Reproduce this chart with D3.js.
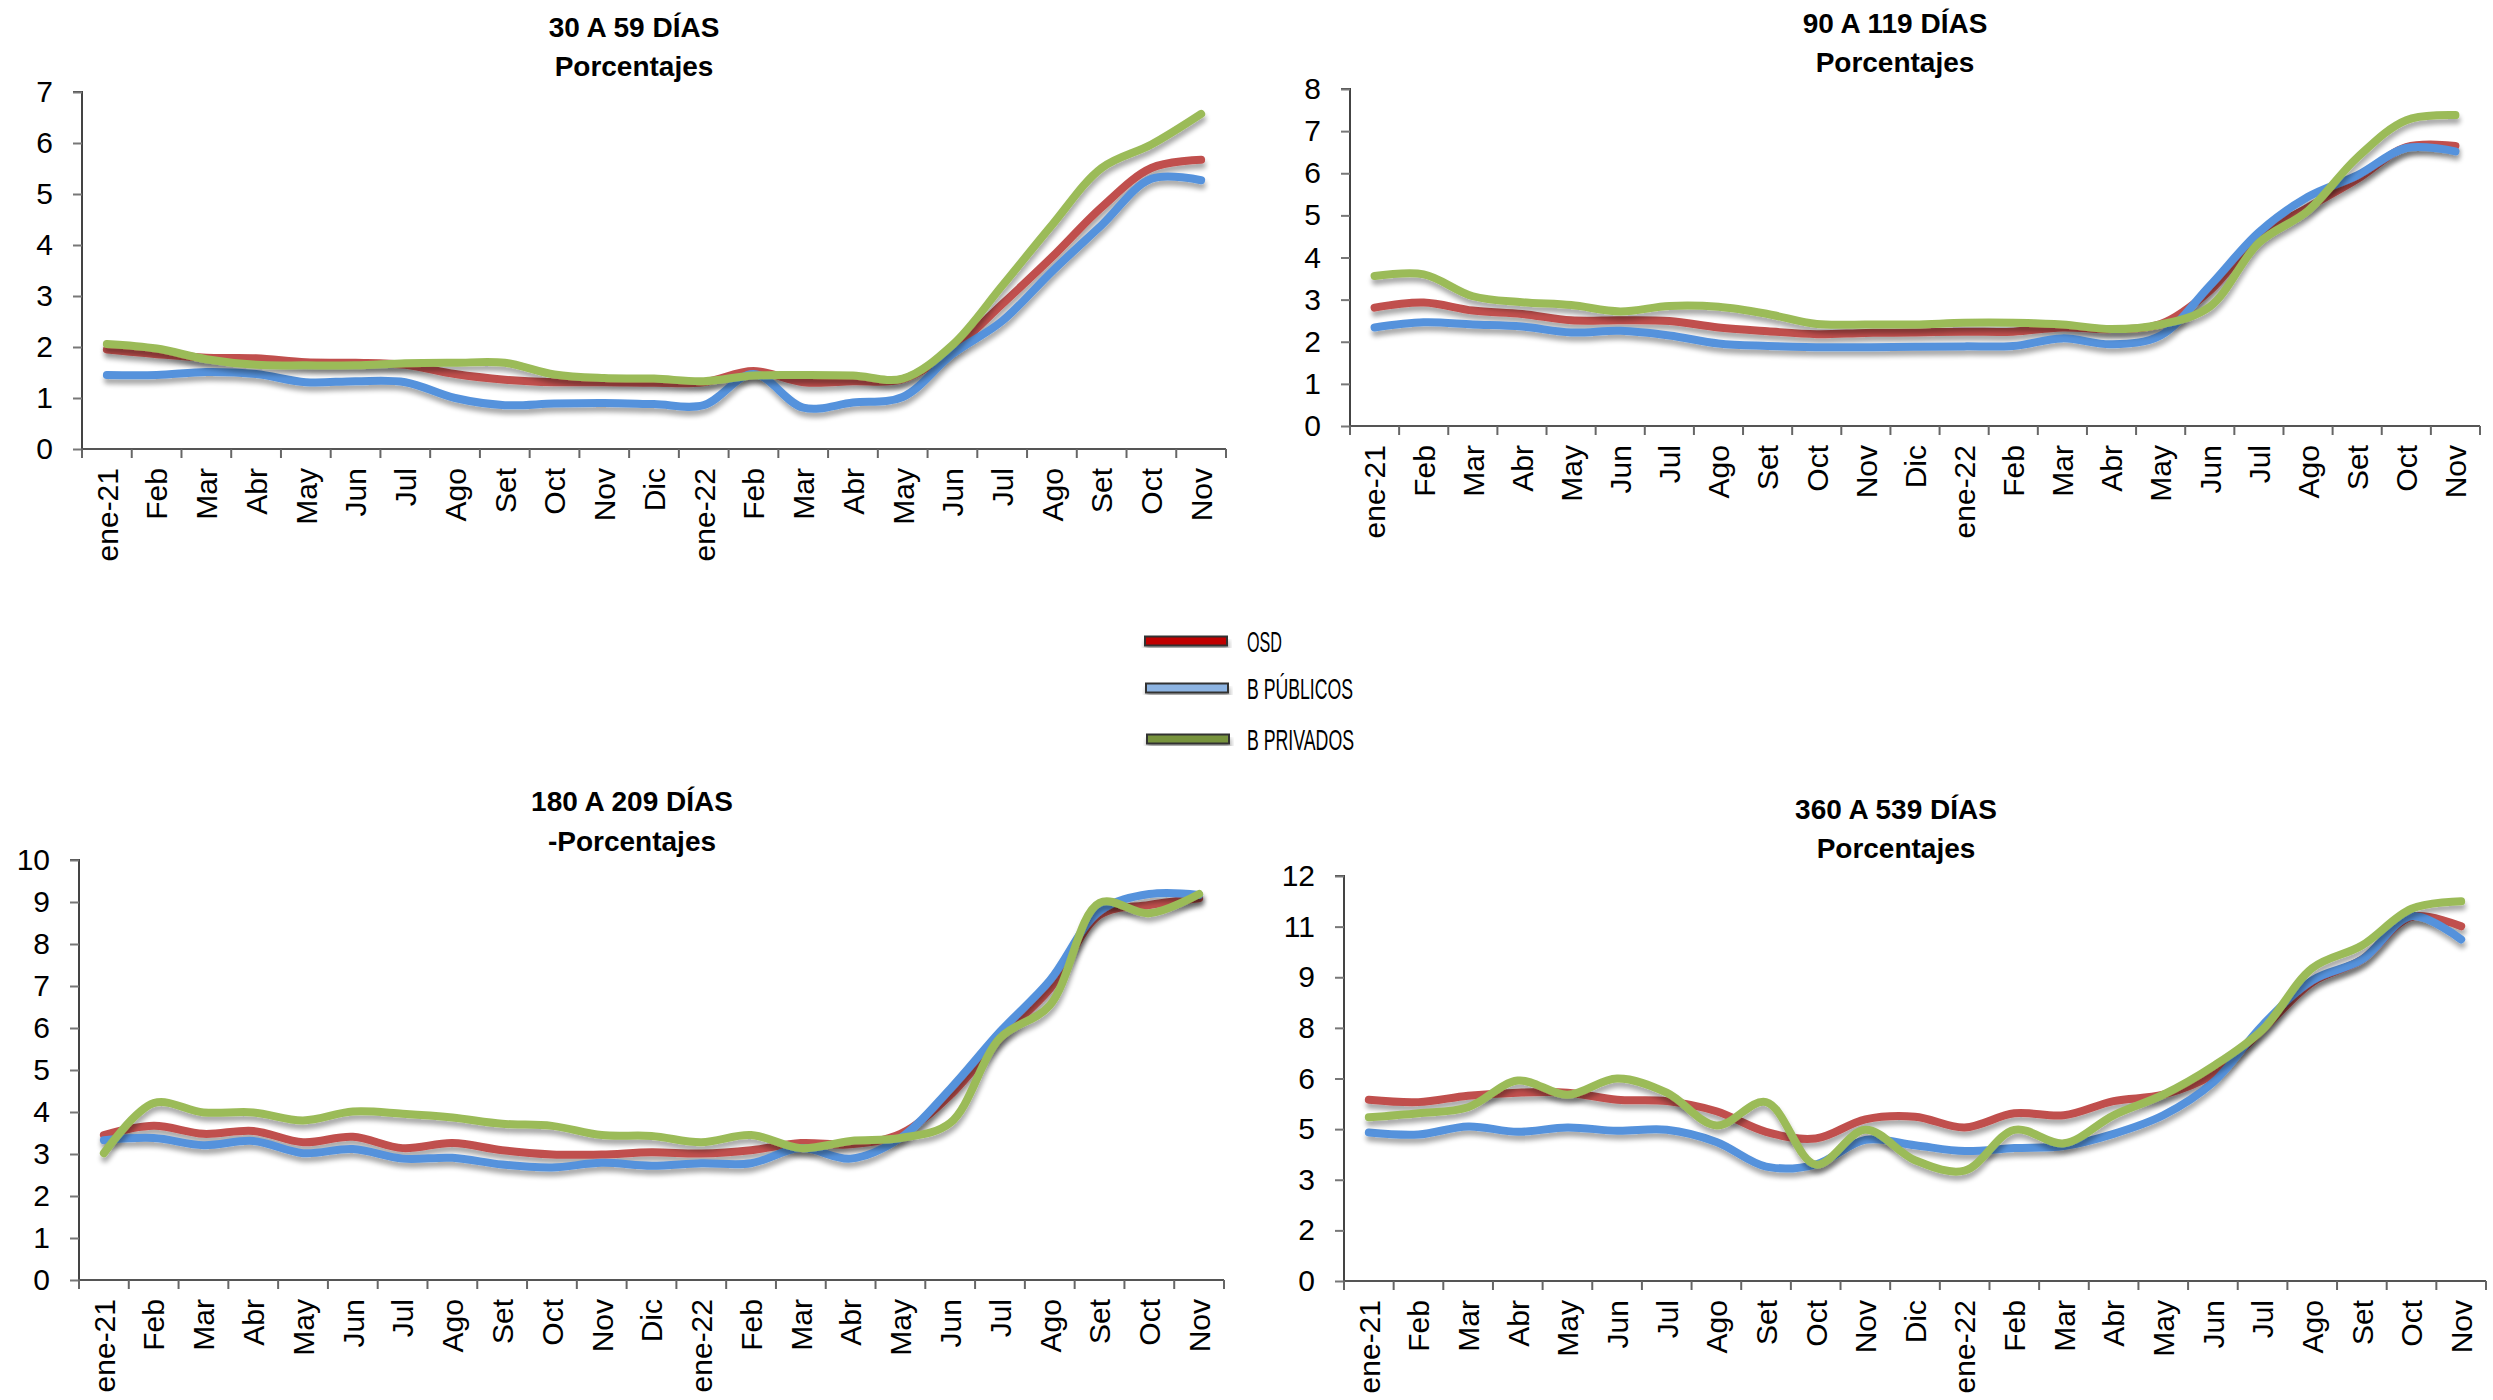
<!DOCTYPE html>
<html><head><meta charset="utf-8">
<script src="https://cdn.jsdelivr.net/npm/d3@7"></script>
<style>
html,body{margin:0;padding:0;background:#fff;}
svg{display:block;}
</style></head>
<body>
<svg id="c" width="2493" height="1400"></svg>
<script>
// ---------- DATA ----------
const categories = ["ene-21","Feb","Mar","Abr","May","Jun","Jul","Ago","Set","Oct","Nov","Dic","ene-22","Feb","Mar","Abr","May","Jun","Jul","Ago","Set","Oct","Nov"];
const seriesNames = ["OSD","B PÚBLICOS","B PRIVADOS"];

// 30 A 59 DÍAS
const osd30  = [1.95,1.86,1.79,1.78,1.70,1.69,1.65,1.47,1.36,1.31,1.31,1.30,1.31,1.53,1.31,1.33,1.37,1.95,2.84,3.76,4.74,5.51,5.67];
const pub30  = [1.45,1.45,1.51,1.47,1.31,1.33,1.31,1.00,0.86,0.89,0.90,0.88,0.86,1.47,0.81,0.91,1.02,1.86,2.51,3.48,4.39,5.30,5.27];
const priv30 = [2.06,1.97,1.76,1.65,1.64,1.64,1.68,1.69,1.69,1.46,1.39,1.38,1.33,1.44,1.45,1.44,1.38,2.04,3.20,4.39,5.51,5.97,6.57];

// 90 A 119 DÍAS
const osd90  = [2.81,2.93,2.74,2.66,2.51,2.51,2.49,2.34,2.25,2.18,2.21,2.22,2.24,2.24,2.34,2.30,2.42,3.21,4.51,5.19,5.86,6.62,6.65];
const pub90  = [2.34,2.46,2.41,2.36,2.22,2.26,2.15,1.96,1.90,1.87,1.87,1.88,1.89,1.90,2.08,1.94,2.15,3.33,4.60,5.44,5.95,6.60,6.52];
const priv90 = [3.56,3.60,3.08,2.94,2.87,2.72,2.85,2.83,2.66,2.42,2.41,2.41,2.45,2.45,2.41,2.30,2.41,2.83,4.35,5.11,6.37,7.26,7.38];

// 180 A 209 DÍAS
const osd180  = [3.45,3.67,3.48,3.55,3.28,3.41,3.14,3.26,3.09,2.99,2.99,3.04,3.01,3.09,3.26,3.23,3.48,4.40,5.76,6.93,8.69,8.93,9.09];
const pub180  = [3.33,3.38,3.21,3.31,3.02,3.12,2.89,2.91,2.75,2.68,2.79,2.72,2.78,2.78,3.14,2.89,3.38,4.55,5.91,7.13,8.78,9.19,9.17];
const priv180 = [3.02,4.21,3.99,3.99,3.80,4.01,3.96,3.87,3.72,3.67,3.45,3.43,3.28,3.45,3.14,3.31,3.38,3.74,5.76,6.54,8.98,8.73,9.19];

// 360 A 539 DÍAS
const osd360  = [5.37,5.30,5.49,5.58,5.58,5.37,5.33,5.03,4.42,4.22,4.79,4.87,4.55,4.97,4.91,5.33,5.52,6.12,7.45,8.85,9.52,10.79,10.51];
const pub360  = [4.40,4.34,4.58,4.42,4.55,4.45,4.48,4.12,3.39,3.45,4.18,4.02,3.85,3.94,4.00,4.36,4.91,5.88,7.58,8.91,9.52,10.81,10.12];
const priv360 = [4.85,4.97,5.15,5.94,5.52,6.00,5.58,4.61,5.30,3.45,4.48,3.58,3.27,4.48,4.08,4.91,5.52,6.36,7.45,9.27,9.94,11.03,11.25];

// y ticks
const ticks30 = [0,1,2,3,4,5,6,7];
const ticks90 = [0,1,2,3,4,5,6,7,8];
const ticks180 = [0,1,2,3,4,5,6,7,8,9,10];
const ticks360 = [0,1.5,3,4.5,6,7.5,9,10.5,12];
const tickLabels360 = ["0","2","3","5","6","8","9","11","12"];

// ---------- STYLE ----------
const colors = ["#C0504D","#5592DC","#9BBB59"];
const legendFill = ["#C00000","#8DB4E2","#77933C"];
const legendTextLen = [35, 106, 107];
const tickFont = "'Liberation Sans', Arial, sans-serif";
const narrowFont = "'Liberation Sans Narrow', 'Arial Narrow', 'Liberation Sans', sans-serif";

const svg = d3.select("#c");
const defs = svg.append("defs");
const f = defs.append("filter").attr("id","sh").attr("x","-5%").attr("y","-20%").attr("width","110%").attr("height","140%");
f.append("feGaussianBlur").attr("in","SourceAlpha").attr("stdDeviation",2.5).attr("result","b");
f.append("feOffset").attr("in","b").attr("dx",1).attr("dy",5).attr("result","o");
f.append("feComponentTransfer").attr("in","o").attr("result","o2")
  .append("feFuncA").attr("type","linear").attr("slope",0.35);
const fm = f.append("feMerge");
fm.append("feMergeNode").attr("in","o2");
fm.append("feMergeNode").attr("in","SourceGraphic");

const panels = [
  {t1:"30 A 59 DÍAS", t2:"Porcentajes", tx:634, ty1:37, ty2:76,
   x0:82, x1:1226, yTop:92, yBot:449, max:7, ticks:ticks30, labels:null, data:[osd30,pub30,priv30]},
  {t1:"90 A 119 DÍAS", t2:"Porcentajes", tx:1895, ty1:33, ty2:72,
   x0:1350, x1:2480, yTop:89, yBot:426, max:8, ticks:ticks90, labels:null, data:[osd90,pub90,priv90]},
  {t1:"180 A 209 DÍAS", t2:"-Porcentajes", tx:632, ty1:811, ty2:851,
   x0:79, x1:1224, yTop:860, yBot:1280, max:10, ticks:ticks180, labels:null, data:[osd180,pub180,priv180]},
  {t1:"360 A 539 DÍAS", t2:"Porcentajes", tx:1896, ty1:819, ty2:858,
   x0:1344, x1:2486, yTop:876, yBot:1281, max:12, ticks:ticks360, labels:tickLabels360, data:[osd360,pub360,priv360]}
];

panels.forEach(p => {
  const g = svg.append("g");
  const x = d3.scaleBand().domain(d3.range(categories.length)).range([p.x0, p.x1]);
  const y = d3.scaleLinear().domain([0, p.max]).range([p.yBot, p.yTop]);

  // titles
  g.append("text").attr("x",p.tx).attr("y",p.ty1).attr("text-anchor","middle")
    .attr("font-family",narrowFont).attr("font-weight","bold").attr("font-size",28).text(p.t1);
  g.append("text").attr("x",p.tx).attr("y",p.ty2).attr("text-anchor","middle")
    .attr("font-family",narrowFont).attr("font-weight","bold").attr("font-size",28).text(p.t2);

  // y axis
  const ya = d3.axisLeft(y).tickValues(p.ticks).tickSize(9).tickPadding(20)
    .tickFormat((d,i) => p.labels ? p.labels[i] : d3.format("d")(d));
  const yg = g.append("g").attr("transform",`translate(${p.x0},0)`).call(ya);
  yg.select(".domain").attr("stroke","#444").attr("stroke-width",2).attr("d",`M-9,${p.yTop}H0V${p.yBot}`);
  yg.selectAll(".tick line").attr("stroke","#777").attr("stroke-width",2);
  yg.selectAll(".tick text").attr("font-family",tickFont).attr("font-size",30).attr("fill","#000");

  // x axis
  const xa = d3.axisBottom(x).tickSize(0).tickFormat(i => categories[i]);
  const xg = g.append("g").attr("transform",`translate(0,${p.yBot})`).call(xa);
  xg.select(".domain").attr("stroke","#555").attr("stroke-width",2).attr("d",`M${p.x0},0H${p.x1}`);
  xg.selectAll(".tick text")
    .attr("font-family",tickFont).attr("font-size",30).attr("fill","#000")
    .attr("text-anchor","end").attr("transform","rotate(-90)")
    .attr("x",-19).attr("y",0).attr("dy","0.36em");
  // boundary ticks
  const bounds = d3.range(categories.length + 1).map(i => i < categories.length ? x(i) : p.x1);
  xg.selectAll("line.bt").data(bounds).join("line").attr("class","bt")
    .attr("x1",d=>d).attr("x2",d=>d).attr("y1",0).attr("y2",9)
    .attr("stroke","#666").attr("stroke-width",2);

  // lines
  const line = d3.line().x((d,i) => x(i) + x.bandwidth()/2).y(d => y(d)).curve(d3.curveCatmullRom.alpha(0.5));
  p.data.forEach((s,k) => {
    g.append("path").attr("d",line(s)).attr("fill","none")
      .attr("stroke",colors[k]).attr("stroke-width",8).attr("stroke-linecap","round")
      .attr("stroke-linejoin","round").attr("filter","url(#sh)");
  });
});

// legend
const legY = [641, 688, 739];
const lg = svg.append("g");
seriesNames.forEach((n,k) => {
  lg.append("rect").attr("x",1145 + k).attr("y",legY[k]-4.5).attr("width",82).attr("height",9)
    .attr("fill",legendFill[k]).attr("stroke","#333").attr("stroke-width",2)
    .attr("filter","url(#sh)");
  lg.append("text").attr("x",1247).attr("y",legY[k]+11).attr("font-family",narrowFont)
    .attr("font-size",29).attr("fill","#000")
    .attr("textLength",legendTextLen[k]).attr("lengthAdjust","spacingAndGlyphs").text(n);
});
</script>
</body></html>
